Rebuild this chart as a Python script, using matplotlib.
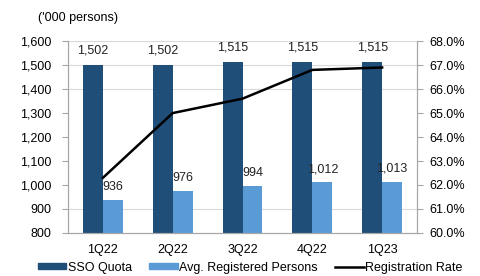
import numpy as np
import matplotlib.pyplot as plt
from matplotlib.patches import Patch
from matplotlib.lines import Line2D

plt.rcParams['font.family'] = ['Liberation Sans', 'DejaVu Sans']

quarters = ['1Q22', '2Q22', '3Q22', '4Q22', '1Q23']
sso_quota = [1502, 1502, 1515, 1515, 1515]
avg_registered = [936, 976, 994, 1012, 1013]
reg_rate = [62.3, 65.0, 65.6, 66.8, 66.9]

dark = '#1f4e79'
light = '#5b9bd5'
axis_grey = '#a6a6a6'

fig = plt.figure(figsize=(4.81, 2.76), dpi=100)
ax = fig.add_axes([0.1414, 0.156, 0.7256, 0.695])
ax2 = ax.twinx()

x = np.arange(len(quarters))
w = 0.286
b1 = ax.bar(x - w / 2, sso_quota, w, color=dark, zorder=2)
b2 = ax.bar(x + w / 2, avg_registered, w, color=light, zorder=2)

for rect, v in zip(b1, sso_quota):
    ax.annotate(f'{v:,}', (rect.get_x() + rect.get_width() / 2, v),
                xytext=(0, 6), textcoords='offset points',
                ha='center', va='bottom', fontsize=9, color='#222222')
for rect, v in zip(b2, avg_registered):
    ax.annotate(f'{v:,}', (rect.get_x() + rect.get_width() / 2, v),
                xytext=(0, 5), textcoords='offset points',
                ha='center', va='bottom', fontsize=9, color='#222222')

ax2.plot(x, reg_rate, color='black', lw=1.8, zorder=3)

ax.set_xlim(-0.5, len(quarters) - 0.5)
ax.set_ylim(800, 1600)
ax.set_yticks(range(800, 1601, 100))
ax.set_yticklabels([f'{v:,}' for v in range(800, 1601, 100)])
ax2.set_ylim(60, 68)
ax2.set_yticks(range(60, 69))
ax2.set_yticklabels([f'{v:.1f}%' for v in range(60, 69)])

for g in [900, 1400, 1500, 1600]:
    ax.axhline(g, color='#d9d9d9', lw=0.8, zorder=1)

ax.set_xticks(x)
ax.set_xticklabels(quarters)
ax.tick_params(axis='x', length=0, pad=8, labelsize=9)
ax.tick_params(axis='y', length=4, pad=8, labelsize=9, color=axis_grey)
ax2.tick_params(axis='y', length=4, pad=5, labelsize=9, color=axis_grey)

for a in (ax, ax2):
    a.spines['top'].set_visible(False)
    for s in ('left', 'right', 'bottom'):
        a.spines[s].set_color(axis_grey)
        a.spines[s].set_linewidth(0.8)

fig.text(38 / 481, 1 - 18 / 276, "('000 persons)", ha='left', va='center', fontsize=9)

handles = [Patch(color=dark), Patch(color=light), Line2D([], [], color='black', lw=1.8)]
labels = ['SSO Quota', 'Avg. Registered Persons', 'Registration Rate']
fig.legend(handles, labels, loc='center', bbox_to_anchor=(0.52, 0.03), ncol=3,
           frameon=False, fontsize=9, handlelength=2.3, handleheight=0.4,
           handletextpad=0.1, columnspacing=1.4, borderpad=0)

fig.savefig('out.png', dpi=100)
